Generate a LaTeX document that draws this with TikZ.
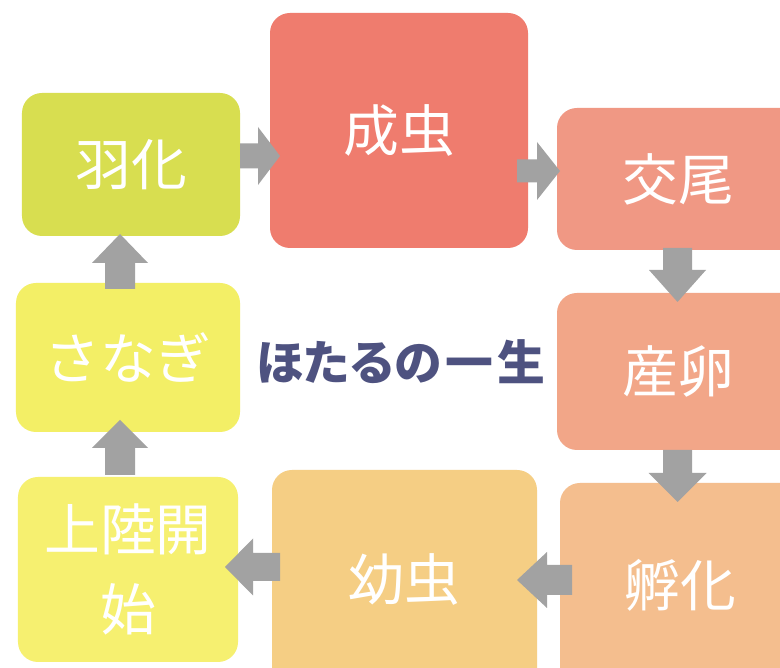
\documentclass[tikz,border=0pt]{standalone}
\usepackage{fontspec}
\newfontfamily\jp{Noto Sans CJK JP}
\definecolor{cHane}{RGB}{216,222,80}
\definecolor{cSei}{RGB}{239,124,110}
\definecolor{cKobi}{RGB}{240,152,132}
\definecolor{cSan}{RGB}{242,166,136}
\definecolor{cFuka}{RGB}{244,190,142}
\definecolor{cYou}{RGB}{245,206,132}
\definecolor{cJoriku}{RGB}{246,240,112}
\definecolor{cSanagi}{RGB}{243,239,102}
\definecolor{arrowgray}{RGB}{162,162,162}
\definecolor{titlecol}{RGB}{78,82,128}
\tikzset{
  stage/.style={rectangle, rounded corners=20bp, draw=none, inner sep=0pt,
    text=white, font=\jp\fontsize{56}{80}\selectfont, align=center},
  pics/barrow/.style n args={4}{code={
    \fill[arrowgray] (0,-#3) -- ({#1-#2},-#3) -- ({#1-#2},-#4) -- (#1,0)
      -- ({#1-#2},#4) -- ({#1-#2},#3) -- (0,#3) -- cycle;}}
}
\begin{document}
\begin{tikzpicture}[x=1bp,y=1bp]
\useasboundingbox (0,0) rectangle (780,668);
\fill[white] (0,0) rectangle (780,668);
\clip (0,0) rectangle (780,668);
% stages
\node[stage, fill=cHane, minimum width=218bp, minimum height=143bp] (hane) at (131,503.5) {羽化};
\node[stage, fill=cSei, minimum width=258bp, minimum height=235bp] (seichu) at (399,537.5) {成虫};
\node[stage, fill=cKobi, minimum width=243bp, minimum height=142bp] (kobi) at (678.5,489) {交尾};
\node[stage, fill=cSan, minimum width=243bp, minimum height=157bp] (sanran) at (678.5,296.5) {産卵};
\node[stage, fill=cFuka, minimum width=240bp, minimum height=205bp] (fuka) at (680,82.5) {孵化};
\node[stage, fill=cYou, minimum width=265bp, minimum height=218bp] (youchu) at (404.5,89) {幼虫};
\node[stage, fill=cJoriku, minimum width=220bp, minimum height=185bp] (joriku) at (128,98.5) {上陸開\\始};
\node[stage, fill=cSanagi, minimum width=224bp, minimum height=149bp] (sanagi) at (128,310.5) {さなぎ};
% title
\node[text=titlecol, font=\jp\bfseries\fontsize{48}{52}\selectfont] (title) at (401,306) {ほ\kern-2bp た\kern-2bp る\kern-2bp の\kern4bp 一\kern4bp 生};
% block arrows
\pic (a1) at (240,512) {barrow={40}{22}{12.5}{29}};
\pic (a2) at (517,497) {barrow={43}{23}{11.5}{29}};
\pic[rotate=-90] (a3) at (677.5,420) {barrow={54}{32}{14.5}{28.5}};
\pic[rotate=-90] (a4) at (677.5,218) {barrow={52}{29}{14.5}{29}};
\pic[rotate=180] (a5) at (572,88) {barrow={55}{30}{15}{28}};
\pic[rotate=180] (a6) at (280,101) {barrow={55}{28}{14}{28.5}};
\pic[rotate=90] (a7) at (120,193) {barrow={55}{28}{15}{28}};
\pic[rotate=90] (a8) at (120,379) {barrow={55}{29}{15}{28}};
\end{tikzpicture}
\end{document}
